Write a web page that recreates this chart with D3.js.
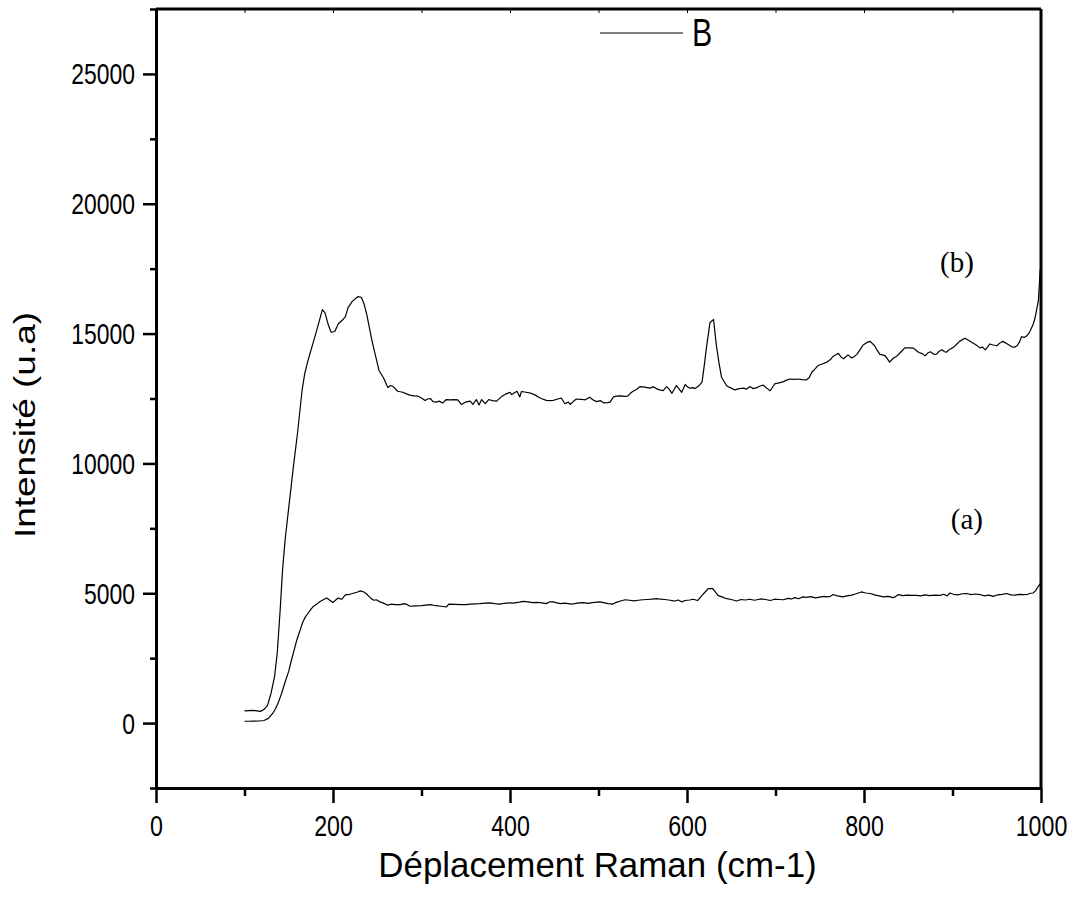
<!DOCTYPE html>
<html>
<head>
<meta charset="utf-8">
<script src="https://cdn.jsdelivr.net/npm/d3@7"></script>
<style>
    body { margin: 0; background: #fff; }
    svg { display: block; }
</style>
</head>
<body>
<div id="chart"></div>
<script>
// spectrum (a): [raman shift cm-1, intensity]
var spectrumA = [
    [100, 70], [105, 70], [110, 75], [117, 80], [122, 100], [127, 180], [132, 380], [135, 550],
    [138, 770], [142, 1150], [146, 1590], [150, 2000], [153, 2420], [156, 2800], [159, 3190],
    [163, 3600], [166, 3900], [169, 4100], [172, 4240], [175, 4380], [178, 4500], [182, 4590],
    [185, 4670], [189, 4750], [193, 4820], [196, 4740], [200, 4640], [203, 4740], [206, 4820],
    [208, 4780], [210, 4770], [213, 4900], [215, 4950], [219, 4960], [223, 5000], [227, 5040],
    [231, 5090], [235, 5050], [238, 4970], [242, 4830], [246, 4730], [249, 4750], [253, 4670],
    [257, 4620], [262, 4540], [266, 4580], [270, 4560], [276, 4560], [281, 4600], [284, 4560],
    [287, 4500], [293, 4510], [300, 4520], [305, 4540], [310, 4560], [316, 4520], [322, 4500],
    [328, 4470], [331, 4580], [338, 4570], [345, 4560], [350, 4560], [355, 4580], [361, 4590],
    [366, 4600], [372, 4620], [377, 4630], [383, 4600], [388, 4580], [393, 4610], [399, 4630],
    [403, 4620], [407, 4640], [411, 4660], [415, 4690], [420, 4670], [426, 4640], [431, 4650],
    [436, 4630], [441, 4600], [445, 4670], [449, 4670], [453, 4630], [457, 4600], [462, 4620],
    [466, 4600], [469, 4580], [473, 4600], [478, 4630], [483, 4640], [488, 4610], [493, 4640],
    [498, 4660], [502, 4670], [507, 4630], [511, 4600], [516, 4580], [520, 4650], [525, 4700],
    [530, 4750], [535, 4730], [540, 4710], [545, 4730], [550, 4750], [555, 4760], [560, 4770],
    [566, 4790], [570, 4770], [575, 4760], [581, 4730], [586, 4700], [590, 4740], [594, 4670],
    [598, 4720], [603, 4740], [607, 4770], [612, 4720], [617, 4920], [620, 5030], [624, 5180],
    [629, 5180], [632, 5050], [635, 4920], [640, 4850], [645, 4790], [650, 4760], [656, 4700],
    [661, 4760], [666, 4740], [671, 4770], [676, 4730], [679, 4750], [684, 4780], [689, 4760],
    [694, 4720], [699, 4770], [704, 4760], [709, 4750], [714, 4800], [718, 4780], [722, 4830],
    [726, 4790], [731, 4860], [735, 4840], [740, 4870], [745, 4820], [750, 4850], [755, 4880],
    [758, 4860], [762, 4880], [765, 4950], [770, 4900], [776, 4860], [781, 4900], [786, 4930],
    [791, 4980], [797, 5050], [802, 5010], [807, 4990], [812, 4940], [817, 4900], [822, 4860],
    [827, 4880], [833, 4830], [836, 4880], [839, 4950], [844, 4910], [849, 4930], [854, 4920],
    [859, 4920], [864, 4900], [869, 4940], [874, 4910], [880, 4930], [886, 4920], [890, 4960],
    [894, 4900], [897, 5010], [901, 4960], [906, 4940], [911, 4980], [916, 4990], [921, 4950],
    [926, 4970], [931, 4950], [936, 4900], [941, 4930], [946, 4880], [951, 4940], [956, 4960],
    [961, 4990], [966, 4940], [971, 4930], [976, 4960], [980, 4950], [985, 4960], [988, 5000],
    [991, 5010], [994, 5100], [997, 5270], [1000, 5400]
];

// spectrum (b)
var spectrumB = [
    [100, 470], [105, 480], [110, 490], [114, 470], [118, 450], [122, 520], [126, 680], [130, 1150],
    [134, 1800], [137, 2700], [140, 4200], [143, 5900], [146, 7100], [150, 8300], [155, 9800],
    [160, 11200], [165, 12800], [168, 13450], [172, 14000], [178, 14700], [183, 15300], [188, 15920],
    [191, 15800], [195, 15300], [198, 15050], [202, 15080], [206, 15380], [211, 15530], [214, 15650],
    [217, 16000], [222, 16250], [228, 16420], [232, 16400], [235, 16150], [238, 15760], [241, 15250],
    [244, 14730], [248, 14150], [252, 13580], [257, 13300], [262, 12920], [265, 13000], [268, 12960],
    [273, 12780], [279, 12740], [283, 12680], [287, 12630], [292, 12600], [296, 12590], [300, 12520],
    [304, 12420], [307, 12480], [310, 12500], [313, 12380], [317, 12360], [320, 12400], [324, 12330],
    [328, 12460], [333, 12450], [337, 12460], [341, 12450], [345, 12270], [349, 12350], [352, 12380],
    [355, 12400], [358, 12270], [362, 12460], [365, 12250], [368, 12460], [372, 12300], [376, 12460],
    [380, 12420], [385, 12400], [391, 12590], [396, 12680], [400, 12740], [402, 12650], [405, 12720],
    [408, 12780], [411, 12560], [413, 12770], [418, 12740], [423, 12710], [428, 12640], [432, 12560],
    [436, 12490], [441, 12430], [445, 12420], [449, 12430], [453, 12470], [458, 12520], [462, 12300],
    [466, 12360], [468, 12270], [472, 12400], [475, 12480], [480, 12470], [485, 12450], [490, 12550],
    [494, 12440], [498, 12380], [502, 12420], [506, 12330], [510, 12340], [513, 12360], [517, 12560],
    [520, 12590], [525, 12600], [529, 12580], [533, 12590], [536, 12700], [539, 12780], [543, 12850],
    [547, 12960], [552, 12940], [558, 12900], [562, 12950], [566, 12870], [569, 12830], [573, 12800],
    [577, 12960], [580, 12850], [583, 12700], [588, 13000], [591, 12870], [594, 12740], [598, 13040],
    [600, 12960], [603, 12900], [607, 12920], [609, 12880], [613, 12980], [617, 13130], [620, 13900],
    [622, 14470], [626, 15430], [630, 15540], [633, 14600], [636, 13900], [639, 13320], [645, 12980],
    [650, 12900], [654, 12830], [659, 12880], [664, 12900], [667, 12860], [671, 12960], [675, 12880],
    [679, 12920], [682, 12970], [686, 13020], [690, 12900], [694, 12800], [699, 13060], [704, 13100],
    [709, 13150], [712, 13200], [716, 13250], [721, 13240], [726, 13250], [730, 13230], [735, 13220],
    [738, 13300], [741, 13510], [745, 13650], [748, 13770], [752, 13820], [758, 13900], [762, 14000],
    [765, 14120], [771, 14240], [774, 14100], [777, 14030], [782, 14180], [786, 14060], [789, 14120],
    [792, 14200], [796, 14400], [799, 14560], [803, 14650], [807, 14700], [812, 14530], [815, 14350],
    [818, 14200], [821, 14180], [824, 14140], [829, 13900], [833, 14050], [837, 14130], [842, 14300],
    [846, 14450], [851, 14450], [856, 14440], [859, 14350], [862, 14270], [866, 14230], [869, 14140],
    [872, 14250], [875, 14300], [879, 14200], [882, 14210], [885, 14320], [888, 14380], [891, 14300],
    [893, 14280], [897, 14400], [901, 14470], [905, 14600], [908, 14700], [914, 14820], [918, 14740],
    [922, 14660], [926, 14580], [931, 14450], [934, 14480], [937, 14370], [940, 14500], [942, 14600],
    [946, 14560], [950, 14530], [954, 14650], [957, 14700], [962, 14600], [967, 14490], [970, 14480],
    [973, 14530], [976, 14700], [978, 14880], [981, 14850], [984, 14920], [986, 15000], [988, 15120],
    [991, 15350], [993, 15560], [995, 15900], [997, 16270], [998, 16800], [999, 17420], [1000, 17650]
];

var xTicks = [0, 200, 400, 600, 800, 1000];
var xMinorTicks = [100, 300, 500, 700, 900];
var xTopTicks = [100, 200, 300, 400, 500, 600, 700, 800, 900];
var yTicks = [0, 5000, 10000, 15000, 20000, 25000];
var yMinorTicks = [-2500, 2500, 7500, 12500, 17500, 22500, 27500];

// curve tags, placed in data units
var curveTags = [
    { text: '(b)', shift: 886, value: 17380 },
    { text: '(a)', shift: 898, value: 7460 }
];
var legendName = 'B';

var margin = { top: 9, right: 39, bottom: 128, left: 156 };
var width = 1080 - margin.left - margin.right;
var height = 916 - margin.top - margin.bottom;

var sans = '"Liberation Sans", Arial, sans-serif';
var serif = '"Liberation Serif", "Times New Roman", serif';

var x = d3.scaleLinear()
    .domain([0, 1000])
    .range([0, width]);

var y = d3.scaleLinear()
    .domain([-2500, 27500])
    .range([height, 0]);

var svg = d3.select('#chart')
    .append('svg')
    .attr('width', 1080)
    .attr('height', 916)
    .append('g')
    .attr('transform', 'translate(' + margin.left + ',' + margin.top + ')');

// minor ticks
svg.append('g')
    .attr('transform', 'translate(0,' + height + ')')
    .call(d3.axisBottom(x).tickValues(xMinorTicks).tickSize(8).tickSizeOuter(0).tickFormat(''))
    .call(g => g.select('.domain').remove())
    .call(g => g.selectAll('line').attr('stroke-width', 2.5));

svg.append('g')
    .call(d3.axisLeft(y).tickValues(yMinorTicks).tickSize(6).tickSizeOuter(0).tickFormat(''))
    .call(g => g.select('.domain').remove())
    .call(g => g.selectAll('line').attr('stroke-width', 2.5));

// top inner ticks
svg.append('g')
    .call(d3.axisBottom(x).tickValues(xTopTicks).tickSize(4).tickSizeOuter(0).tickFormat(''))
    .call(g => g.select('.domain').remove())
    .call(g => g.selectAll('line').attr('stroke-width', 1));

// x axis
var xAxis = svg.append('g')
    .attr('transform', 'translate(0,' + height + ')')
    .call(d3.axisBottom(x).tickValues(xTicks).tickSize(15).tickSizeOuter(0).tickFormat(d3.format('d')));
xAxis.select('.domain').attr('stroke-width', 3);
xAxis.selectAll('.tick line').attr('stroke-width', 2.5);
xAxis.selectAll('.tick text')
    .attr('y', null)
    .attr('dy', null)
    .attr('transform', 'translate(0,48) scale(0.8,1)')
    .attr('font-family', sans)
    .attr('font-size', 29)
    .attr('fill', '#000');

// y axis
var yAxis = svg.append('g')
    .call(d3.axisLeft(y).tickValues(yTicks).tickSize(13).tickSizeOuter(0).tickFormat(d3.format('d')));
yAxis.select('.domain').attr('stroke-width', 3);
yAxis.selectAll('.tick line').attr('stroke-width', 2.5);
yAxis.selectAll('.tick text')
    .attr('x', null)
    .attr('dy', null)
    .attr('transform', 'translate(-21,10) scale(0.79,1)')
    .attr('font-family', sans)
    .attr('font-size', 29)
    .attr('fill', '#000');

// frame top and right
svg.append('line')
    .attr('x1', 0)
    .attr('x2', width)
    .attr('y1', 0)
    .attr('y2', 0)
    .attr('stroke', 'black')
    .attr('stroke-width', 3);
svg.append('line')
    .attr('x1', width)
    .attr('x2', width)
    .attr('y1', 0)
    .attr('y2', height)
    .attr('stroke', 'black')
    .attr('stroke-width', 3);

// spectra
var line = d3.line()
    .x(d => x(d[0]))
    .y(d => y(d[1]));

[spectrumA, spectrumB].forEach(function (s) {
    svg.append('path')
        .datum(s)
        .attr('d', line)
        .attr('fill', 'none')
        .attr('stroke', 'black')
        .attr('stroke-width', 1.2)
        .attr('stroke-linejoin', 'round');
});

// curve tags
svg.selectAll('.tag')
    .data(curveTags)
    .enter()
    .append('text')
    .attr('class', 'tag')
    .attr('x', d => x(d.shift))
    .attr('y', d => y(d.value))
    .attr('font-family', serif)
    .attr('font-size', 29)
    .text(d => d.text);

// legend
svg.append('line')
    .attr('x1', 444)
    .attr('x2', 527)
    .attr('y1', 24)
    .attr('y2', 24)
    .attr('stroke', 'black')
    .attr('stroke-width', 1.2);
svg.append('text')
    .attr('transform', 'translate(536,37) scale(0.8,1)')
    .attr('font-family', sans)
    .attr('font-size', 38)
    .text(legendName);

// axis titles
svg.append('text')
    .attr('transform', 'translate(' + (width / 2 - 1) + ',' + (height + 89) + ') scale(0.97,1)')
    .attr('text-anchor', 'middle')
    .attr('font-family', sans)
    .attr('font-size', 36)
    .text('Déplacement Raman (cm-1)');

svg.append('text')
    .attr('transform', 'translate(-121,416) rotate(-90) scale(1,0.8)')
    .attr('text-anchor', 'middle')
    .attr('font-family', sans)
    .attr('font-size', 37)
    .text('Intensité (u.a)');
</script>
</body>
</html>
